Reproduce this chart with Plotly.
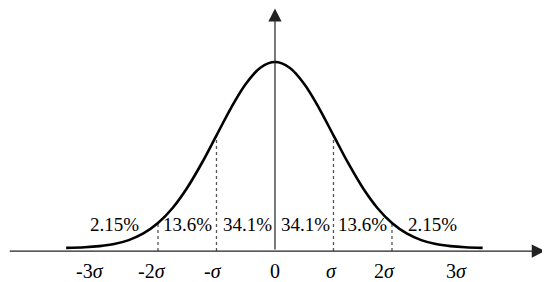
import plotly.graph_objects as go

# curve, x in sigma units, height relative to the peak
curve_x = [-3.57, -3.25, -3.0, -2.75, -2.5, -2.25, -2.0, -1.75, -1.5, -1.25, -1.0, -0.75, -0.5, -0.25,
           0.0, 0.25, 0.5, 0.75, 1.0, 1.25, 1.5, 1.75, 2.0, 2.25, 2.5, 2.75, 3.0, 3.25, 3.55]
curve_y = [0.017, 0.020, 0.026, 0.037, 0.058, 0.093, 0.148, 0.228, 0.335, 0.466, 0.612, 0.758, 0.884, 0.970,
           1.0, 0.970, 0.884, 0.758, 0.612, 0.466, 0.335, 0.228, 0.148, 0.093, 0.058, 0.037, 0.026, 0.020, 0.017]

# dotted guides at -2s, -s, s, 2s
guide_x = [-2.0, -1.0, 1.0, 2.0]

# percentages between the guides
pct_labels = ["2.15%", "13.6%", "34.1%", "34.1%", "13.6%", "2.15%"]
pct_x = [-2.735, -1.504, -0.462, 0.513, 1.504, 2.70]

# axis labels
tick_labels = ["-3<i>σ</i>", "-2<i>σ</i>", "-<i>σ</i>", "0", "<i>σ</i>", "2<i>σ</i>", "3<i>σ</i>"]
tick_x = [-3.16, -2.11, -1.06, 0.0, 0.96, 1.88, 3.11]

FONT = "Liberation Serif"

fig = go.Figure()

for gx in guide_x:
    gy = curve_y[curve_x.index(gx)]
    fig.add_trace(go.Scatter(x=[gx, gx], y=[0, gy], mode="lines",
                             line=dict(color="#555555", width=1.3, dash="dot"),
                             hoverinfo="skip"))

fig.add_trace(go.Scatter(x=curve_x, y=curve_y, mode="lines", line_shape="spline",
                         line=dict(color="black", width=2.6), hoverinfo="skip"))

# axes with arrow heads
fig.add_annotation(x=4.615, y=0, ax=-4.56, ay=0, xref="x", yref="y", axref="x", ayref="y",
                   text="", showarrow=True, arrowhead=2, arrowsize=2.2, arrowwidth=1.2,
                   arrowcolor="#222222")
fig.add_annotation(x=0, y=1.284, ax=0, ay=0, xref="x", yref="y", axref="x", ayref="y",
                   text="", showarrow=True, arrowhead=2, arrowsize=2.2, arrowwidth=1.2,
                   arrowcolor="#222222")

for t, px in zip(pct_labels, pct_x):
    fig.add_annotation(x=px, y=0.138, text=t, showarrow=False,
                       font=dict(family=FONT, size=19, color="black"))

for t, px in zip(tick_labels, tick_x):
    fig.add_annotation(x=px, y=-0.105, text=t, showarrow=False,
                       font=dict(family=FONT, size=20, color="black"))

# the page puts the plot 8px in from the top-left, ranges allow for that
fig.update_layout(
    width=550, height=282,
    margin=dict(l=0, r=0, t=0, b=0),
    paper_bgcolor="white", plot_bgcolor="white",
    showlegend=False,
    xaxis=dict(range=[-4.564, 4.838], visible=False, fixedrange=True),
    yaxis=dict(range=[-0.206, 1.286], visible=False, fixedrange=True),
)

fig.write_html("out.html")
